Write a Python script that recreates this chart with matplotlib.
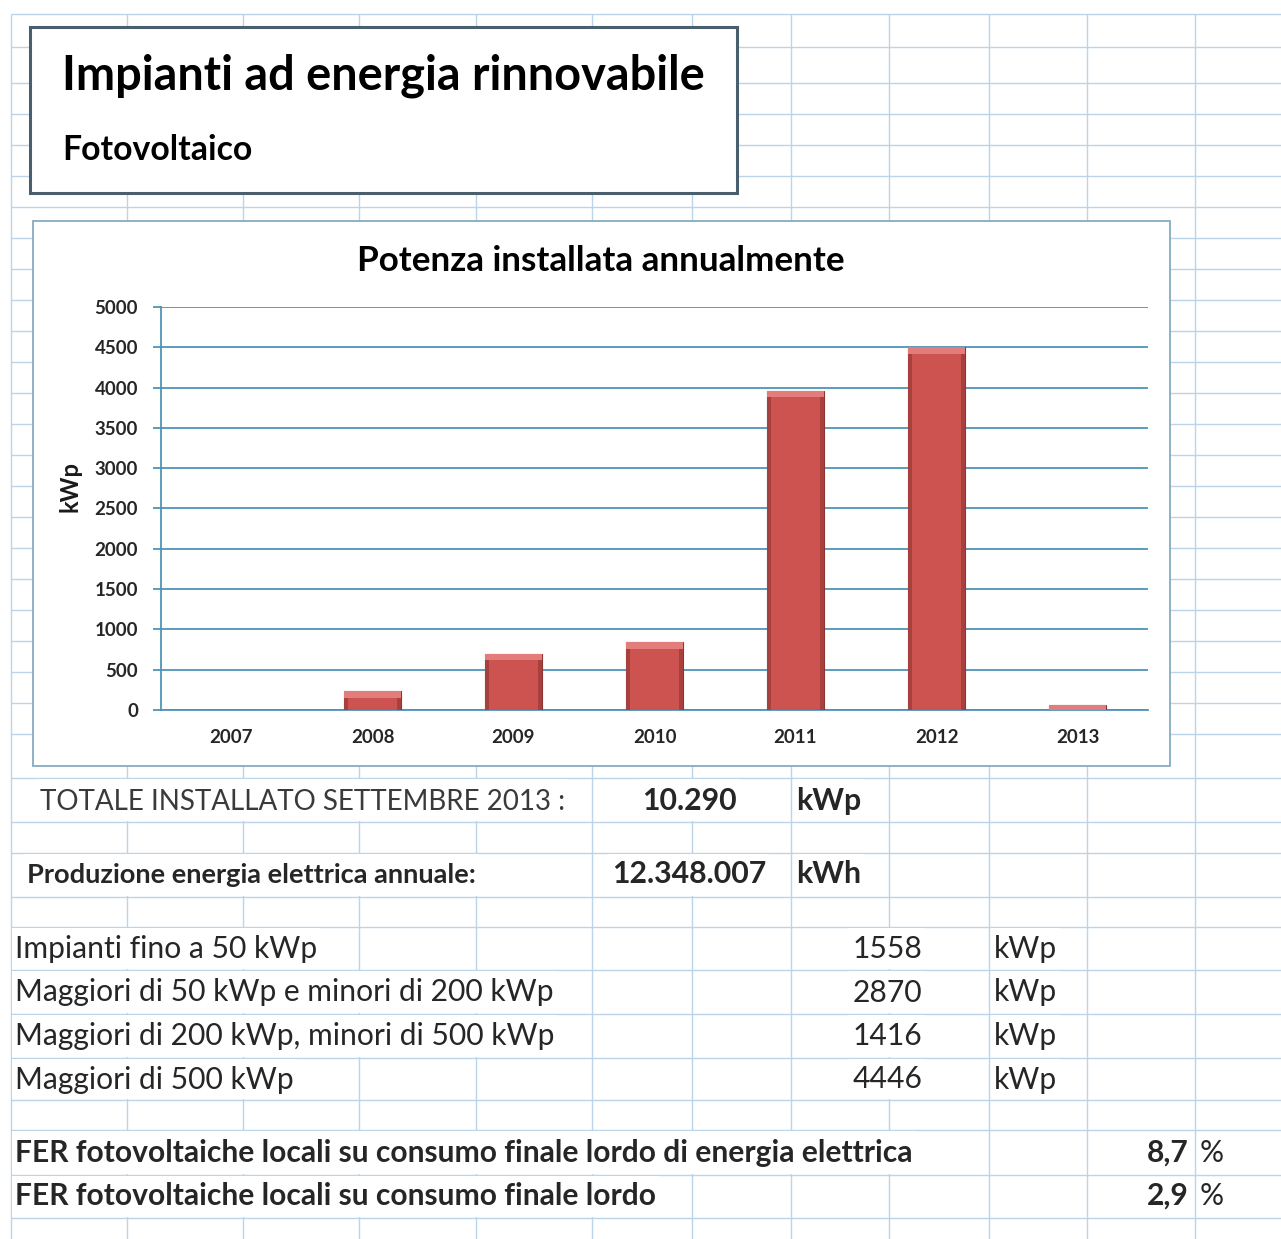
import numpy as np
import matplotlib.pyplot as plt
from matplotlib.patches import Rectangle

plt.rcParams['font.family'] = ['Lato', 'DejaVu Sans']

# data
years = ['2007', '2008', '2009', '2010', '2011', '2012', '2013']
kwp_installed = [0, 230, 700, 840, 3960, 4500, 60]

totale_kwp = 10290
produzione_kwh = 12348007

size_classes = ['Impianti fino a 50 kWp',
                'Maggiori di 50 kWp e minori di 200 kWp',
                'Maggiori di 200 kWp, minori di 500 kWp',
                'Maggiori di 500 kWp']
size_kwp = [1558, 2870, 1416, 4446]

fer_labels = ['FER fotovoltaiche locali su consumo finale lordo di energia elettrica',
              'FER fotovoltaiche locali su consumo finale lordo']
fer_pct = [8.7, 2.9]


def it_num(v, dec=0):
    s = f'{v:,.{dec}f}'
    return s.replace(',', 'X').replace('.', ',').replace('X', '.')


W, H = 1281, 1239
fig = plt.figure(figsize=(W / 100, H / 100), dpi=100)
renderer = fig.canvas.get_renderer()

# spreadsheet background in pixel coordinates
bg = fig.add_axes([0, 0, 1, 1])
bg.set_xlim(0, W)
bg.set_ylim(H, 0)
bg.axis('off')

grid_c = '#bcd4ea'
col_x = [11, 127, 243, 359, 476, 592, 692, 791, 889, 989, 1087, 1195]
row_y = [14, 47] + list(np.linspace(83, 734, 22)) + \
        [778, 822, 853, 897, 927, 970, 1014, 1058, 1100, 1130, 1175, 1218]
bg.vlines(col_x, 14, H, color=grid_c, lw=1, zorder=1)
bg.hlines(row_y, 11, W, color=grid_c, lw=1, zorder=1)

# title box and chart box
bg.add_patch(Rectangle((30, 27), 707, 166, facecolor='white',
                       edgecolor='#4a5f6d', lw=2.2, zorder=3))
bg.add_patch(Rectangle((33, 221), 1137, 545, facecolor='white',
                       edgecolor='#86abc3', lw=1.3, zorder=3))


def put(x, y, s, width=None, size=20, ha='left', row=None, **kw):
    t = bg.text(x, y, s, ha=ha, va='baseline', fontsize=size, zorder=5, **kw)
    if width:
        w = t.get_window_extent(renderer).width
        t.set_fontsize(size * width / w)
    if row:
        # text spilling over cells hides the sheet's vertical gridlines
        bb = t.get_window_extent(renderer)
        bg.add_patch(Rectangle((bb.x0 - 3, row[0] + 1), bb.width + 6,
                               row[1] - row[0] - 2, facecolor='white',
                               lw=0, zorder=4))
    return t.get_fontsize()


put(62, 89, 'Impianti ad energia rinnovabile', 643, weight='bold', color='black')
put(62, 160, 'Fotovoltaico', 190, weight='bold', color='black')
put(357, 271, 'Potenza installata annualmente', 486, weight='bold', color='black')
bg.text(70, 487, 'kWp', rotation=90, ha='center', va='center', fontsize=17,
        weight='bold', color='#1a1a1a', zorder=5)

# summary rows
txt = '#262626'
r = (778, 822)
fs = put(40, 810, 'TOTALE INSTALLATO SETTEMBRE 2013 :', 524, color='#3a3a3a', row=r)
fsb = put(642, 810, it_num(totale_kwp), 95, weight='bold', color=txt, row=r)
put(796, 810, 'kWp', size=fsb, weight='bold', color=txt, row=r)

r = (853, 897)
fsp = put(27, 883, 'Produzione energia elettrica annuale:', 451, weight='bold',
          color=txt, row=r)
put(766, 883, it_num(produzione_kwh), size=fsb, ha='right', weight='bold',
    color=txt, row=r)
put(796, 883, 'kWh', size=fsb, weight='bold', color=txt, row=r)

list_rows = [(927, 970), (970, 1014), (1014, 1058), (1058, 1100)]
probe = bg.text(0, 0, size_classes[1], fontsize=20)
fsl = 20 * 541 / probe.get_window_extent(renderer).width
probe.remove()
for i, (lab, v) in enumerate(zip(size_classes, size_kwp)):
    yb = 958 + i * 43.5
    put(15, yb, lab, size=fsl, color=txt, row=list_rows[i])
    put(922, yb, str(v), size=fsl, ha='right', color=txt, row=list_rows[i])
    put(994, yb, 'kWp', size=fsl, color=txt, row=list_rows[i])

fer_rows = [(1130, 1175), (1175, 1218)]
probe = bg.text(0, 0, fer_labels[1], fontsize=20, weight='bold')
fsf = 20 * 639 / probe.get_window_extent(renderer).width
probe.remove()
for i, (lab, v) in enumerate(zip(fer_labels, fer_pct)):
    yb = 1162 + i * 43
    put(15, yb, lab, size=fsf, weight='bold', color=txt, row=fer_rows[i])
    put(1189, yb, it_num(v, 1), size=fsf, ha='right', weight='bold', color=txt)
    put(1200, yb, '%', size=fsf, color=txt)

# bar chart
x0, x1, ytop, ybot = 161, 1148, 307, 710
ax = fig.add_axes([x0 / W, (H - ybot) / H, (x1 - x0) / W, (ybot - ytop) / H])
ax.patch.set_visible(False)

x = np.arange(len(years))
vals = np.array(kwp_installed)
bw = 0.4
ax.bar(x, vals, width=bw, color='#cd5351', edgecolor='#8e3533', lw=0.8, zorder=3)
ax.bar(x - bw / 2 + 0.012, vals, width=0.024, color='#a8403e', lw=0, zorder=4)
ax.bar(x + bw / 2 - 0.012, vals, width=0.024, color='#a8403e', lw=0, zorder=4)
cap = np.minimum(vals, 80)
ax.bar(x, cap, bottom=vals - cap, width=bw, color='#e27d7b', lw=0, zorder=5)

axis_c = '#4f93b8'
ax.set_xlim(-0.5, len(years) - 0.5)
ax.set_ylim(0, 5000)
ax.set_yticks(np.arange(0, 5001, 500))
ax.set_xticks(x, years)
ax.yaxis.grid(True, color=axis_c, lw=1.3, zorder=0)
ax.set_axisbelow(True)
for s in ['top', 'right']:
    ax.spines[s].set_visible(False)
for s in ['left', 'bottom']:
    ax.spines[s].set_color(axis_c)
    ax.spines[s].set_linewidth(1.3)
ax.tick_params(axis='y', length=6, width=1.3, color=axis_c, pad=10.5,
               labelsize=13.5, labelcolor='#262626')
ax.tick_params(axis='x', length=0, pad=14, labelsize=13.5, labelcolor='#262626')
for lab in ax.get_xticklabels() + ax.get_yticklabels():
    lab.set_fontweight('bold')

fig.savefig('out.png', dpi=100, facecolor='white')
